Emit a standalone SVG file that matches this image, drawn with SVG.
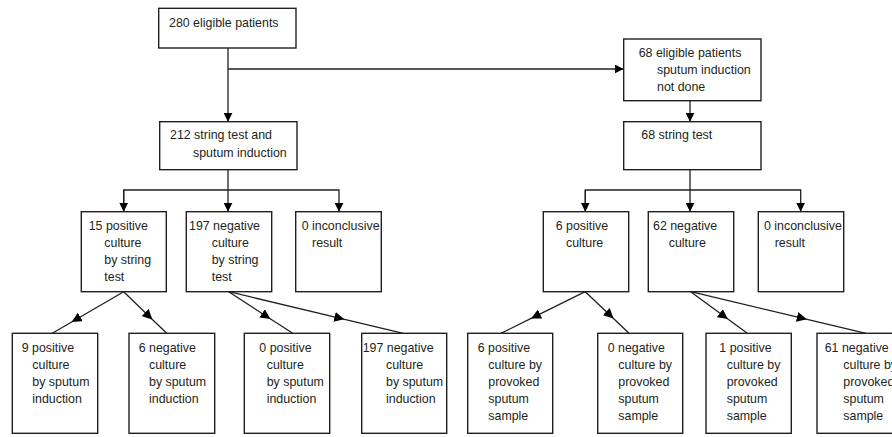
<svg xmlns="http://www.w3.org/2000/svg" width="892" height="437" viewBox="0 0 892 437">
<style>
.box{fill:#fff;stroke:#231f20;stroke-width:1.4}
.ln{fill:none;stroke:#231f20;stroke-width:1.3}
text{font-family:"Liberation Sans",Arial,sans-serif;font-size:12.4px;fill:#231f20}
</style>
<defs>
<marker id="ae" viewBox="0 0 10 10" refX="10" refY="5" markerWidth="9" markerHeight="9" markerUnits="userSpaceOnUse" orient="auto"><path d="M0,0 L10,5 L0,10 z" fill="#000"/></marker>
<marker id="am" viewBox="0 0 10 10" refX="6" refY="5" markerWidth="10" markerHeight="10" markerUnits="userSpaceOnUse" orient="auto"><path d="M0,0 L10,5 L0,10 z" fill="#000"/></marker>
</defs>
<rect width="892" height="437" fill="#fff"/>
<g id="connectors">
<path class="ln" d="M228,48 V121.7" marker-end="url(#ae)"/>
<path class="ln" d="M228,69 H623.7" marker-end="url(#ae)"/>
<path class="ln" d="M690,100.7 V121.7" marker-end="url(#ae)"/>
<path class="ln" d="M228,169.7 V211.7" marker-end="url(#ae)"/>
<path class="ln" d="M123.7,211.7 V190 H339 V211.7" marker-end="url(#ae)"/>
<path class="ln" d="M123.7,190 V211.7" marker-end="url(#ae)"/>
<path class="ln" d="M690,169.7 V211.7" marker-end="url(#ae)"/>
<path class="ln" d="M585.3,211.7 V190 H800.7 V211.7" marker-end="url(#ae)"/>
<path class="ln" d="M585.3,190 V211.7" marker-end="url(#ae)"/>
<path class="ln" d="M123.7,291.7 L75.1,320 L52.3,333.3" marker-mid="url(#am)"/>
<path class="ln" d="M123.7,291.7 L149.5,316.7 L166.7,333.3" marker-mid="url(#am)"/>
<path class="ln" d="M228.7,291.7 L267.1,316.7 L292.7,333.3" marker-mid="url(#am)"/>
<path class="ln" d="M228.7,291.7 L340.4,318.3 L403.3,333.3" marker-mid="url(#am)"/>
<path class="ln" d="M585.3,291.7 L534.7,316.7 L501,333.3" marker-mid="url(#am)"/>
<path class="ln" d="M585.3,291.7 L610.6,315.8 L629,333.3" marker-mid="url(#am)"/>
<path class="ln" d="M690.7,291.7 L724.7,316.7 L747.3,333.3" marker-mid="url(#am)"/>
<path class="ln" d="M690.7,291.7 L802.9,318.3 L866,333.3" marker-mid="url(#am)"/>
</g>
<g id="n280">
<rect class="box" x="158.7" y="8.3" width="137.3" height="39.7"/>
<text x="169" y="26.7">280 eligible patients</text>
</g>
<g id="n212">
<rect class="box" x="159.7" y="121.7" width="137.3" height="48"/>
<text x="170" y="139">212 string test and</text>
<text x="193" y="156.5">sputum induction</text>
</g>
<g id="n68e">
<rect class="box" x="623.7" y="39" width="137.3" height="61.7"/>
<text x="638.7" y="56.7">68 eligible patients</text>
<text x="657" y="74">sputum induction</text>
<text x="657" y="91">not done</text>
</g>
<g id="n68s">
<rect class="box" x="623.7" y="121.7" width="137.3" height="48"/>
<text x="641.3" y="139">68 string test</text>
</g>
<g id="n15">
<rect class="box" x="81.3" y="211.7" width="85" height="80"/>
<text x="88.7" y="230">15 positive</text>
<text x="104.3" y="247.3">culture</text>
<text x="104.3" y="264.3">by string</text>
<text x="104.3" y="281.3">test</text>
</g>
<g id="n197">
<rect class="box" x="186.3" y="211.7" width="85.4" height="80"/>
<text x="189" y="230">197 negative</text>
<text x="211.7" y="247.3">culture</text>
<text x="211.7" y="264.3">by string</text>
<text x="211.7" y="281.3">test</text>
</g>
<g id="n0a">
<rect class="box" x="295.7" y="211.7" width="85.6" height="80"/>
<text x="301.7" y="230">0 inconclusive</text>
<text x="312" y="247.3">result</text>
</g>
<g id="n6p">
<rect class="box" x="543.3" y="211.7" width="85.4" height="80"/>
<text x="555.7" y="230">6 positive</text>
<text x="566" y="247.3">culture</text>
</g>
<g id="n62">
<rect class="box" x="648.3" y="211.7" width="85.4" height="80"/>
<text x="653" y="230">62 negative</text>
<text x="668.7" y="247.3">culture</text>
</g>
<g id="n0b">
<rect class="box" x="758.3" y="211.7" width="85.4" height="80"/>
<text x="764" y="230">0 inconclusive</text>
<text x="774.7" y="247.3">result</text>
</g>
<g id="n9">
<rect class="box" x="12.3" y="333.3" width="85.4" height="100"/>
<text x="21.7" y="351.7">9 positive</text>
<text x="32.3" y="369">culture</text>
<text x="32.3" y="386">by sputum</text>
<text x="32.3" y="403.3">induction</text>
</g>
<g id="n6n">
<rect class="box" x="129" y="333.3" width="85.7" height="100"/>
<text x="138.7" y="351.7">6 negative</text>
<text x="149" y="369">culture</text>
<text x="149" y="386">by sputum</text>
<text x="149" y="403.3">induction</text>
</g>
<g id="n0p">
<rect class="box" x="244.3" y="333.3" width="85.4" height="100"/>
<text x="259.3" y="351.7">0 positive</text>
<text x="266.7" y="369">culture</text>
<text x="266.7" y="386">by sputum</text>
<text x="266.7" y="403.3">induction</text>
</g>
<g id="n197n">
<rect class="box" x="361.7" y="333.3" width="85" height="100"/>
<text x="362.7" y="351.7">197 negative</text>
<text x="386" y="369">culture</text>
<text x="386" y="386">by sputum</text>
<text x="386" y="403.3">induction</text>
</g>
<g id="n6pp">
<rect class="box" x="467.7" y="333.3" width="85" height="100"/>
<text x="477.7" y="351.7">6 positive</text>
<text x="488.3" y="369">culture by</text>
<text x="488.3" y="386">provoked</text>
<text x="488.3" y="403.3">sputum</text>
<text x="488.3" y="420.3">sample</text>
</g>
<g id="n0np">
<rect class="box" x="597.7" y="333.3" width="85" height="100"/>
<text x="607.7" y="351.7">0 negative</text>
<text x="618.3" y="369">culture by</text>
<text x="618.3" y="386">provoked</text>
<text x="618.3" y="403.3">sputum</text>
<text x="618.3" y="420.3">sample</text>
</g>
<g id="n1pp">
<rect class="box" x="706" y="333.3" width="85.3" height="100"/>
<text x="719.3" y="351.7">1 positive</text>
<text x="726.7" y="369">culture by</text>
<text x="726.7" y="386">provoked</text>
<text x="726.7" y="403.3">sputum</text>
<text x="726.7" y="420.3">sample</text>
</g>
<g id="n61np">
<rect class="box" x="817" y="333.3" width="85" height="100"/>
<text x="824.7" y="351.7">61 negative</text>
<text x="843.3" y="369">culture by</text>
<text x="843.3" y="386">provoked</text>
<text x="843.3" y="403.3">sputum</text>
<text x="843.3" y="420.3">sample</text>
</g>
</svg>
